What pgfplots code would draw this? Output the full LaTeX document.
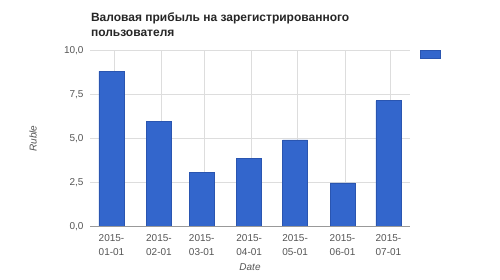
\documentclass[border=0pt]{standalone}
\usepackage{pgfplots}
\pgfplotsset{compat=1.18}
\usepackage{fontspec}
\setmainfont{Liberation Sans}
\definecolor{barblue}{HTML}{3366CC}
\definecolor{baredge}{HTML}{2A55B0}
\definecolor{gridc}{HTML}{DDDDDD}
\definecolor{axisc}{HTML}{999999}
\definecolor{tickc}{HTML}{555555}
\begin{document}
\begin{tikzpicture}[x=1pt,y=1pt]
\path[use as bounding box] (0,0) rectangle (500,279);
\node[anchor=west,align=left,font=\fontsize{12}{15}\selectfont\bfseries,text=black!85] at (87.5,254.5) {Валовая прибыль на зарегистрированного\\пользователя};
\begin{axis}[
  at={(90pt,52.3pt)}, anchor=south west,
  scale only axis, width=320pt, height=176.4pt,
  xmin=-14.05, xmax=195.1, ymin=0, ymax=10,
  axis line style={draw=none},
  ytick={0,2.5,5,7.5,10},
  yticklabel style={/pgf/number format/fixed,/pgf/number format/fixed zerofill,/pgf/number format/precision=1,/pgf/number format/use comma, font=\fontsize{10}{12}\selectfont, text=tickc, xshift=-3pt},
  /pgf/number format/assume math mode=true,
  ymajorgrids, grid style={gridc, line width=0.8pt},
  major tick length=0pt,
  xtick={0,31,59,90,120,151,181},
  xticklabels={{2015-\\01-01},{2015-\\02-01},{2015-\\03-01},{2015-\\04-01},{2015-\\05-01},{2015-\\06-01},{2015-\\07-01}},
  xticklabel style={align=center, font=\fontsize{10}{14}\selectfont, text=tickc, yshift=-4pt},
  extra x ticks={1.6,32.6,60.6,91.6,121.6,152.6,182.6},
  extra x tick labels={},
  extra x tick style={grid=major, grid style={gridc, line width=0.8pt}},
  xlabel={\itshape Date}, xlabel style={font=\fontsize{10}{12}\selectfont, text=tickc, at={(axis description cs:0.5,-0.228)}, anchor=center},
  ylabel={\itshape Ruble}, ylabel style={font=\fontsize{10}{12}\selectfont, text=tickc, at={(axis description cs:-0.178,0.5)}, anchor=center},
  legend style={draw=none, fill=none, at={(1,1)}, anchor=north west, xshift=7pt, yshift=3pt, font=\fontsize{1}{1}\selectfont},
  legend image code/.code={\draw[barblue, fill=barblue, draw=baredge] (0pt,-4pt) rectangle (20pt,4pt);},
  clip=false,
]
\addplot[ybar, bar width=25pt, fill=barblue, draw=baredge, line width=0.6pt] coordinates {
  (0,8.8) (31,5.95) (59,3.1) (90,3.85) (120,4.92) (151,2.48) (181,7.14)
};
\addlegendentry{}
\draw[axisc, line width=0.8pt] (axis cs:-14.05,0) -- (axis cs:195.1,0);
\end{axis}
\end{tikzpicture}
\end{document}
